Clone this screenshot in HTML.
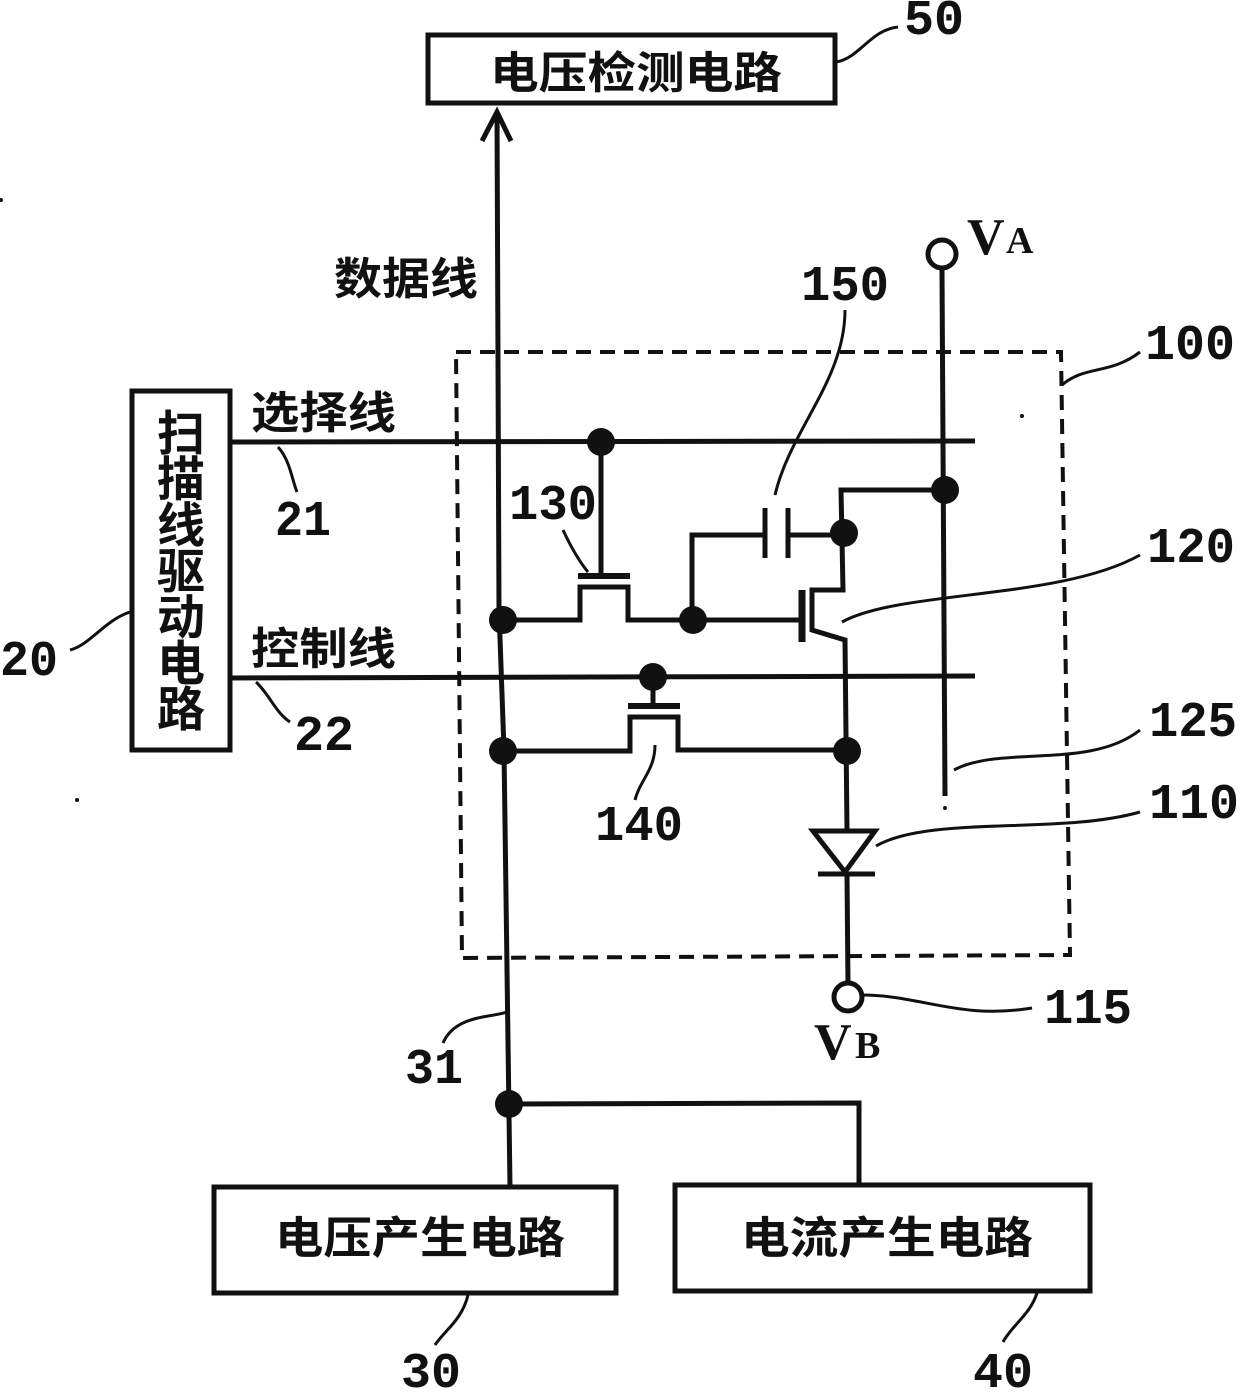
<!DOCTYPE html>
<html><head><meta charset="utf-8"><style>
html,body{margin:0;padding:0;background:#fff}
svg{display:block}
text{fill:#111;font-weight:bold}
.n{font-family:"Liberation Mono","DejaVu Sans Mono",monospace;font-size:50px}
.c{font-family:"Liberation Sans","Noto Sans CJK SC",sans-serif;font-size:44px;font-weight:bold}
.k{font-family:"Liberation Sans","Noto Sans CJK SC",sans-serif;font-size:48px;font-weight:bold}
.v{font-family:"Liberation Serif",serif;font-size:52px}
.s{font-family:"Liberation Serif",serif;font-size:38px}
</style></head><body>
<svg width="1240" height="1392" viewBox="0 0 1240 1392" xmlns="http://www.w3.org/2000/svg">
<g fill="none" stroke="#111" stroke-width="5">
<!-- boxes -->
<rect x="428" y="35" width="407" height="68"/>
<rect x="132" y="391" width="98" height="359"/>
<rect x="214" y="1187" width="402" height="106"/>
<rect x="675" y="1185" width="415" height="106"/>
<!-- dashed -->
<path d="M456 352L1061 352L1070 955L462 958Z" stroke-dasharray="15 9" stroke-width="4"/>
<!-- data line -->
<path d="M497 112L499 610L504 750L510 1187"/>
<path d="M482 141L497 112L511 141"/>
<path d="M510 1104L859 1103L859 1185"/>
<!-- select/control lines -->
<path d="M230 442L975 441"/>
<path d="M230 678L975 676"/>
<!-- VA line -->
<path d="M942 270L945 796"/>
<path d="M945 490L841 490L843 590L812 590L812 630L845 640L847 830"/>
<!-- 120 transistor -->
<path d="M802 590L802 642" stroke-width="7"/>
<path d="M504 620L580 620L580 587L628 587L628 620L802 620"/>
<!-- 130 -->
<path d="M578 576L630 576" stroke-width="6"/>
<path d="M601 442L601 576"/>
<!-- cap 150 -->
<path d="M692 620L692 535L764 535M788 535L843 535"/>
<path d="M765 508L765 558M788 508L788 558"/>
<!-- 140 -->
<path d="M628 706L680 706" stroke-width="6"/>
<path d="M653 677L653 706"/>
<path d="M504 751L630 751L630 717L678 717L678 750L847 750"/>
<!-- diode -->
<path d="M813 831L875 831L845 872Z"/>
<path d="M818 874L875 874"/>
<path d="M847 874L848 985"/>
<!-- terminals -->
<circle cx="942" cy="254" r="14"/>
<circle cx="848" cy="997" r="14"/>
<!-- leaders -->
<g stroke-width="3">
<path d="M836 62C860 58 870 30 898 27"/>
<path d="M70 650C90 645 105 620 130 612"/>
<path d="M278 447C290 460 292 480 297 492"/>
<path d="M256 682C270 695 275 712 290 722"/>
<path d="M845 310C845 380 790 430 775 495"/>
<path d="M563 530C570 545 578 560 588 572"/>
<path d="M1062 385C1085 365 1110 375 1140 352"/>
<path d="M842 622C900 590 1060 600 1140 555"/>
<path d="M954 770C1000 745 1090 770 1140 730"/>
<path d="M876 846C930 815 1060 835 1140 812"/>
<path d="M655 745C655 770 640 780 635 800"/>
<path d="M862 995C920 995 960 1020 1032 1008"/>
<path d="M507 1012C490 1018 455 1015 443 1043"/>
<path d="M468 1295C462 1320 445 1330 435 1345"/>
<path d="M1037 1293C1030 1315 1012 1325 1003 1342"/>
</g>
</g>
<!-- dots -->
<g fill="#111">
<circle cx="601" cy="442" r="14"/>
<circle cx="945" cy="490" r="14"/>
<circle cx="844" cy="533" r="14"/>
<circle cx="503" cy="620" r="14"/>
<circle cx="693" cy="620" r="14"/>
<circle cx="653" cy="677" r="14"/>
<circle cx="503" cy="751" r="14"/>
<circle cx="847" cy="751" r="14"/>
<circle cx="509" cy="1104" r="14"/>
<circle cx="1022" cy="416" r="2"/><circle cx="945" cy="808" r="2"/><circle cx="77" cy="800" r="2"/><circle cx="1" cy="200" r="2"/>
</g>
<!-- CJK labels -->
<text class="c" x="490" y="88" textLength="292" lengthAdjust="spacingAndGlyphs">电压检测电路</text>
<text class="c" x="334" y="294" textLength="144" lengthAdjust="spacingAndGlyphs">数据线</text>
<text class="c" x="251" y="428" textLength="145" lengthAdjust="spacingAndGlyphs">选择线</text>
<text class="c" x="251" y="664" textLength="145" lengthAdjust="spacingAndGlyphs">控制线</text>
<text class="c" x="275" y="1253" textLength="290" lengthAdjust="spacingAndGlyphs">电压产生电路</text>
<text class="c" x="741" y="1253" textLength="292" lengthAdjust="spacingAndGlyphs">电流产生电路</text>
<text class="k" x="181" y="450" text-anchor="middle">扫</text>
<text class="k" x="181" y="496" text-anchor="middle">描</text>
<text class="k" x="181" y="542" text-anchor="middle">线</text>
<text class="k" x="181" y="588" text-anchor="middle">驱</text>
<text class="k" x="181" y="634" text-anchor="middle">动</text>
<text class="k" x="181" y="680" text-anchor="middle">电</text>
<text class="k" x="181" y="726" text-anchor="middle">路</text>
<!-- number labels -->
<text class="n" x="904" y="34" textLength="60" lengthAdjust="spacingAndGlyphs">50</text>
<text class="n" x="801" y="300" textLength="88" lengthAdjust="spacingAndGlyphs">150</text>
<text class="n" x="1145" y="359" textLength="90" lengthAdjust="spacingAndGlyphs">100</text>
<text class="n" x="509" y="519" textLength="88" lengthAdjust="spacingAndGlyphs">130</text>
<text class="n" x="1147" y="562" textLength="88" lengthAdjust="spacingAndGlyphs">120</text>
<text class="n" x="275" y="535" textLength="56" lengthAdjust="spacingAndGlyphs">21</text>
<text class="n" x="294" y="750" textLength="60" lengthAdjust="spacingAndGlyphs">22</text>
<text class="n" x="0" y="675" textLength="58" lengthAdjust="spacingAndGlyphs">20</text>
<text class="n" x="1149" y="736" textLength="88" lengthAdjust="spacingAndGlyphs">125</text>
<text class="n" x="1149" y="818" textLength="90" lengthAdjust="spacingAndGlyphs">110</text>
<text class="n" x="595" y="840" textLength="88" lengthAdjust="spacingAndGlyphs">140</text>
<text class="n" x="1044" y="1023" textLength="88" lengthAdjust="spacingAndGlyphs">115</text>
<text class="n" x="405" y="1083" textLength="58" lengthAdjust="spacingAndGlyphs">31</text>
<text class="n" x="401" y="1387" textLength="60" lengthAdjust="spacingAndGlyphs">30</text>
<text class="n" x="973" y="1387" textLength="60" lengthAdjust="spacingAndGlyphs">40</text>
<!-- VA / VB -->
<text class="v" x="967" y="254">V</text><text class="s" x="1006" y="253">A</text>
<text class="v" x="814" y="1059">V</text><text class="s" x="855" y="1058">B</text>
</svg>
</body></html>
